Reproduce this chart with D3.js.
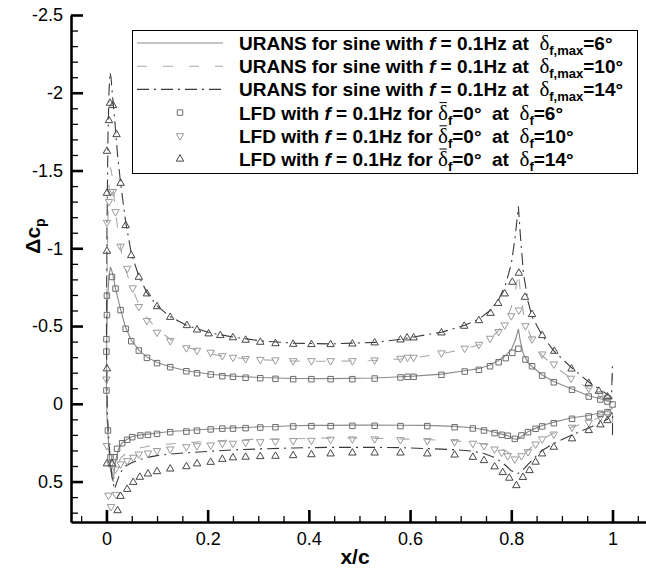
<!DOCTYPE html>
<html>
<head>
<meta charset="utf-8">
<script src="https://cdn.jsdelivr.net/npm/d3@7"></script>
<style>
body { margin: 0; background: #fff; }
svg { display: block; font-family: "Liberation Sans", Arial, sans-serif; }
.axis path, .axis line { stroke: #000; }
</style>
</head>
<body>
<svg width="646" height="569"></svg>
<script>
// ---- data: [x/c, dCp] ----
// URANS loops: lower surface TE -> LE, then upper surface LE -> TE
var urans6 = [[1.0,0.03],[0.99,0.045],[0.976,0.058],[0.953,0.075],[0.92,0.09],[0.884,0.118],[0.861,0.14],[0.848,0.158],[0.833,0.18],[0.822,0.205],[0.812,0.23],[0.805,0.225],[0.793,0.205],[0.781,0.195],[0.767,0.183],[0.746,0.166],[0.724,0.154],[0.688,0.145],[0.634,0.139],[0.581,0.138],[0.53,0.137],[0.486,0.137],[0.443,0.139],[0.405,0.139],[0.369,0.141],[0.334,0.146],[0.304,0.148],[0.275,0.152],[0.25,0.155],[0.206,0.162],[0.158,0.172],[0.126,0.178],[0.1,0.188],[0.082,0.195],[0.067,0.2],[0.051,0.21],[0.041,0.228],[0.031,0.25],[0.024,0.29],[0.018,0.37],[0.013,0.5],[0.008,0.42],[0.004,0.25],[0.001,0.08],[0.0,-0.1],[0.0005,-0.4],[0.002,-0.65],[0.005,-0.82],[0.008,-0.88],[0.012,-0.84],[0.018,-0.74],[0.028,-0.605],[0.038,-0.49],[0.049,-0.41],[0.064,-0.345],[0.08,-0.3],[0.1,-0.265],[0.126,-0.238],[0.158,-0.213],[0.206,-0.19],[0.25,-0.178],[0.304,-0.169],[0.369,-0.163],[0.443,-0.162],[0.53,-0.166],[0.581,-0.174],[0.607,-0.178],[0.662,-0.191],[0.708,-0.213],[0.736,-0.226],[0.758,-0.25],[0.775,-0.28],[0.789,-0.31],[0.8,-0.35],[0.808,-0.41],[0.814,-0.48],[0.818,-0.4],[0.824,-0.32],[0.833,-0.265],[0.841,-0.24],[0.861,-0.185],[0.884,-0.143],[0.92,-0.095],[0.953,-0.052],[0.976,-0.032],[0.99,-0.02],[1.0,-0.01]];

var urans10 = [[1.0,0.12],[1.0,0.03],[0.99,0.07],[0.953,0.115],[0.92,0.15],[0.884,0.19],[0.861,0.225],[0.848,0.255],[0.833,0.3],[0.82,0.33],[0.81,0.345],[0.8,0.33],[0.793,0.31],[0.781,0.29],[0.767,0.275],[0.746,0.258],[0.724,0.248],[0.688,0.238],[0.634,0.23],[0.581,0.226],[0.53,0.222],[0.486,0.22],[0.443,0.22],[0.405,0.222],[0.369,0.225],[0.304,0.228],[0.25,0.232],[0.206,0.24],[0.158,0.25],[0.126,0.258],[0.1,0.265],[0.08,0.275],[0.064,0.285],[0.049,0.3],[0.038,0.32],[0.028,0.35],[0.02,0.41],[0.015,0.48],[0.01,0.42],[0.005,0.25],[0.001,0.05],[0.0,-0.3],[0.001,-0.8],[0.003,-1.2],[0.006,-1.45],[0.008,-1.52],[0.011,-1.47],[0.016,-1.3],[0.022,-1.13],[0.03,-0.97],[0.04,-0.84],[0.05,-0.75],[0.064,-0.64],[0.08,-0.555],[0.1,-0.48],[0.126,-0.415],[0.158,-0.365],[0.206,-0.32],[0.25,-0.297],[0.304,-0.283],[0.369,-0.275],[0.443,-0.273],[0.53,-0.278],[0.581,-0.288],[0.607,-0.295],[0.662,-0.322],[0.708,-0.352],[0.736,-0.38],[0.758,-0.42],[0.775,-0.47],[0.789,-0.54],[0.8,-0.62],[0.808,-0.72],[0.814,-0.85],[0.818,-0.72],[0.824,-0.58],[0.833,-0.48],[0.841,-0.41],[0.861,-0.31],[0.884,-0.245],[0.92,-0.16],[0.953,-0.1],[0.976,-0.065],[0.99,-0.04],[0.999,-0.03],[1.0,-0.2]];

var urans14 = [[1.0,0.2],[1.0,0.05],[0.99,0.1],[0.953,0.155],[0.92,0.2],[0.884,0.255],[0.861,0.3],[0.848,0.34],[0.833,0.39],[0.822,0.43],[0.812,0.45],[0.8,0.43],[0.79,0.4],[0.781,0.375],[0.767,0.345],[0.746,0.32],[0.724,0.305],[0.688,0.295],[0.634,0.288],[0.581,0.282],[0.53,0.28],[0.443,0.28],[0.369,0.284],[0.304,0.29],[0.25,0.296],[0.206,0.305],[0.158,0.315],[0.126,0.323],[0.1,0.333],[0.08,0.345],[0.064,0.36],[0.049,0.38],[0.038,0.4],[0.028,0.44],[0.021,0.5],[0.016,0.55],[0.011,0.47],[0.006,0.3],[0.002,0.08],[0.0,-0.4],[0.001,-1.1],[0.003,-1.7],[0.005,-2.0],[0.007,-2.13],[0.009,-2.1],[0.012,-1.98],[0.017,-1.8],[0.022,-1.6],[0.028,-1.42],[0.038,-1.17],[0.049,-0.97],[0.064,-0.82],[0.08,-0.715],[0.1,-0.63],[0.126,-0.56],[0.158,-0.505],[0.206,-0.455],[0.25,-0.43],[0.304,-0.405],[0.369,-0.39],[0.443,-0.385],[0.53,-0.395],[0.581,-0.415],[0.607,-0.43],[0.662,-0.46],[0.708,-0.505],[0.736,-0.545],[0.758,-0.6],[0.775,-0.67],[0.789,-0.77],[0.8,-0.9],[0.808,-1.08],[0.814,-1.27],[0.818,-1.08],[0.824,-0.84],[0.833,-0.66],[0.841,-0.56],[0.861,-0.44],[0.884,-0.34],[0.92,-0.23],[0.953,-0.14],[0.976,-0.09],[0.99,-0.06],[0.998,-0.04],[1.0,-0.27]];

// LFD points
var lfd6 = [[0.0,-0.09],[0.0,-0.34],[0.0,-0.42],[0.001,-0.575],[0.001,-0.7],[0.011,-0.82],[0.018,-0.745],[0.028,-0.607],[0.038,-0.487],[0.049,-0.407],[0.064,-0.347],[0.08,-0.3],[0.1,-0.266],[0.126,-0.24],[0.158,-0.214],[0.179,-0.201],[0.206,-0.193],[0.229,-0.182],[0.25,-0.178],[0.275,-0.172],[0.304,-0.169],[0.334,-0.165],[0.369,-0.163],[0.405,-0.163],[0.443,-0.163],[0.486,-0.163],[0.53,-0.167],[0.581,-0.174],[0.595,-0.178],[0.607,-0.178],[0.662,-0.191],[0.708,-0.212],[0.736,-0.223],[0.758,-0.246],[0.775,-0.272],[0.789,-0.298],[0.802,-0.332],[0.814,-0.358],[0.828,-0.289],[0.841,-0.246],[0.861,-0.186],[0.884,-0.143],[0.92,-0.095],[0.953,-0.051],[0.976,-0.032],[0.99,-0.019],[1.0,0.0],
  [0.003,0.167],[0.008,0.339],[0.016,0.339],[0.021,0.285],[0.031,0.249],[0.041,0.227],[0.051,0.21],[0.067,0.199],[0.082,0.195],[0.1,0.189],[0.126,0.178],[0.158,0.174],[0.179,0.168],[0.206,0.16],[0.229,0.155],[0.25,0.155],[0.275,0.152],[0.304,0.148],[0.334,0.146],[0.369,0.141],[0.405,0.139],[0.443,0.139],[0.486,0.137],[0.53,0.137],[0.581,0.139],[0.634,0.139],[0.688,0.146],[0.724,0.154],[0.746,0.167],[0.767,0.184],[0.781,0.195],[0.793,0.201],[0.807,0.221],[0.82,0.199],[0.833,0.178],[0.848,0.156],[0.861,0.141],[0.884,0.12],[0.92,0.092],[0.953,0.077],[0.976,0.06],[0.99,0.049]];

var lfd10 = [[0.0,-0.154],[0.001,-1.162],[0.005,-1.295],[0.008,-1.359],[0.013,-1.36],[0.018,-1.23],[0.028,-1.008],[0.041,-0.866],[0.052,-0.74],[0.064,-0.62],[0.08,-0.53],[0.1,-0.455],[0.126,-0.401],[0.158,-0.355],[0.179,-0.339],[0.206,-0.326],[0.229,-0.304],[0.25,-0.294],[0.275,-0.285],[0.304,-0.28],[0.334,-0.277],[0.369,-0.272],[0.405,-0.272],[0.443,-0.272],[0.486,-0.272],[0.53,-0.277],[0.581,-0.287],[0.595,-0.294],[0.607,-0.294],[0.662,-0.322],[0.708,-0.352],[0.736,-0.377],[0.758,-0.416],[0.775,-0.459],[0.787,-0.502],[0.8,-0.561],[0.815,-0.598],[0.828,-0.497],[0.841,-0.412],[0.861,-0.315],[0.884,-0.251],[0.918,-0.159],[0.953,-0.095],[0.976,-0.06],[0.99,-0.035],
  [0.001,0.274],[0.008,0.392],[0.004,0.593],[0.009,0.666],[0.019,0.588],[0.018,0.424],[0.028,0.392],[0.041,0.371],[0.053,0.349],[0.064,0.328],[0.082,0.322],[0.1,0.306],[0.126,0.296],[0.158,0.281],[0.179,0.275],[0.206,0.27],[0.229,0.259],[0.25,0.259],[0.275,0.253],[0.304,0.249],[0.334,0.246],[0.369,0.242],[0.405,0.24],[0.443,0.233],[0.486,0.231],[0.53,0.231],[0.581,0.236],[0.634,0.242],[0.688,0.249],[0.724,0.259],[0.746,0.275],[0.767,0.296],[0.781,0.317],[0.793,0.339],[0.807,0.36],[0.82,0.339],[0.833,0.313],[0.848,0.264],[0.861,0.231],[0.884,0.2],[0.92,0.156],[0.953,0.124],[0.976,0.09],[0.99,0.07]];

var lfd14 = [[0.001,-0.23],[0.001,-0.986],[0.001,-1.359],[0.001,-1.629],[0.005,-1.826],[0.007,-1.938],[0.013,-1.923],[0.02,-1.736],[0.028,-1.423],[0.038,-1.151],[0.049,-0.958],[0.064,-0.819],[0.08,-0.712],[0.1,-0.63],[0.126,-0.561],[0.159,-0.508],[0.179,-0.48],[0.202,-0.455],[0.225,-0.444],[0.25,-0.43],[0.275,-0.414],[0.304,-0.401],[0.334,-0.392],[0.369,-0.388],[0.405,-0.386],[0.443,-0.386],[0.486,-0.39],[0.53,-0.397],[0.581,-0.416],[0.594,-0.429],[0.607,-0.429],[0.662,-0.461],[0.707,-0.504],[0.736,-0.54],[0.759,-0.587],[0.774,-0.651],[0.787,-0.712],[0.802,-0.787],[0.815,-0.845],[0.827,-0.69],[0.841,-0.579],[0.861,-0.444],[0.885,-0.343],[0.919,-0.229],[0.953,-0.137],[0.973,-0.086],[0.99,-0.05],
  [0.001,0.381],[0.011,0.381],[0.022,0.682],[0.028,0.59],[0.041,0.545],[0.053,0.5],[0.066,0.467],[0.082,0.446],[0.1,0.431],[0.126,0.414],[0.158,0.399],[0.179,0.381],[0.206,0.371],[0.229,0.352],[0.25,0.342],[0.275,0.338],[0.304,0.334],[0.334,0.332],[0.369,0.328],[0.405,0.322],[0.443,0.317],[0.486,0.311],[0.53,0.311],[0.581,0.311],[0.634,0.317],[0.688,0.324],[0.724,0.339],[0.746,0.36],[0.767,0.4],[0.783,0.437],[0.796,0.473],[0.81,0.521],[0.823,0.468],[0.836,0.424],[0.848,0.37],[0.861,0.317],[0.884,0.274],[0.92,0.22],[0.953,0.167],[0.976,0.13],[0.99,0.103]];

var xMajor = [0, 0.2, 0.4, 0.6, 0.8, 1];
var xTickLabels = ["0", "0.2", "0.4", "0.6", "0.8", "1"];
var yMajor = [-2.5, -2, -1.5, -1, -0.5, 0, 0.5];
var yTickLabels = ["-2.5", "-2", "-1.5", "-1", "-0.5", "0", "0.5"];
var angles = ["6", "10", "14"];

var svg = d3.select("svg");

var x = d3.scaleLinear().domain([-0.07, 1.08]).range([71, 653]);
var y = d3.scaleLinear().domain([-2.5, 0.76]).range([15, 522]);

// minor ticks
var xMinor = d3.range(-0.05, 1.06, 0.05).filter(function(d) { return Math.abs(d*5 - Math.round(d*5)) > 1e-6; });
var yMinor = d3.range(-2.4, 0.75, 0.1).filter(function(d) { return Math.abs(d*2 - Math.round(d*2)) > 1e-6; });

var gx = svg.append("g").attr("class", "axis").attr("transform", "translate(0," + y(0.76) + ")");
gx.call(d3.axisBottom(x).tickValues(xMinor).tickSize(-6).tickSizeOuter(0).tickFormat(""));
gx.selectAll("line").attr("stroke-width", 1.3);
gx.select(".domain").remove();
var gx2 = svg.append("g").attr("class", "axis").attr("transform", "translate(0," + y(0.76) + ")");
gx2.call(d3.axisBottom(x).tickValues(xMajor).tickSize(-12).tickSizeOuter(0).tickPadding(10)
  .tickFormat(function(d, i) { return xTickLabels[i]; }));
gx2.selectAll("line").attr("stroke-width", 2.6);
gx2.select(".domain").attr("stroke-width", 2.6);
gx2.selectAll("text").attr("font-size", 18).attr("fill", "#000").attr("font-family", '"Liberation Sans", Arial, sans-serif');

var gy = svg.append("g").attr("class", "axis").attr("transform", "translate(" + x(-0.07) + ",0)");
gy.call(d3.axisLeft(y).tickValues(yMinor).tickSize(-7).tickSizeOuter(0).tickFormat(""));
gy.selectAll("line").attr("stroke-width", 1.3);
gy.select(".domain").remove();
var gy2 = svg.append("g").attr("class", "axis").attr("transform", "translate(" + x(-0.07) + ",0)");
gy2.call(d3.axisLeft(y).tickValues(yMajor).tickSize(-12).tickSizeOuter(0).tickPadding(8)
  .tickFormat(function(d, i) { return yTickLabels[i]; }));
gy2.selectAll("line").attr("stroke-width", 2.6);
gy2.select(".domain").attr("stroke-width", 2.6);
gy2.selectAll("text").attr("font-size", 18).attr("fill", "#000").attr("font-family", '"Liberation Sans", Arial, sans-serif');

// axis titles
svg.append("text")
  .attr("x", 355).attr("y", 564)
  .attr("text-anchor", "middle")
  .attr("font-size", 21).attr("font-weight", "bold")
  .text("x/c");

var yl = svg.append("text")
  .attr("transform", "translate(40,236) rotate(-90)")
  .attr("text-anchor", "middle")
  .attr("font-size", 21).attr("font-weight", "bold");
yl.append("tspan").text("Δc");
yl.append("tspan").attr("dy", 5).attr("font-size", 14).text("p");

// URANS lines
var line = d3.line().x(function(d) { return x(d[0]); }).y(function(d) { return y(d[1]); });

var uransStyle = [
  { data: urans6, color: "#8a8a8a", dash: null },
  { data: urans10, color: "#a8a8a8", dash: "10,16" },
  { data: urans14, color: "#3a3a3a", dash: "12,5,2,5" }
];
var lfdStyle = [
  { data: lfd6, color: "#6c6c6c", sym: d3.symbolSquare, size: 30, rot: 0 },
  { data: lfd10, color: "#9a9a9a", sym: d3.symbolTriangle, size: 24, rot: 180 },
  { data: lfd14, color: "#474747", sym: d3.symbolTriangle, size: 24, rot: 0 }
];

uransStyle.forEach(function(s) {
  svg.append("path")
    .datum(s.data)
    .attr("d", line)
    .attr("fill", "none")
    .attr("stroke", s.color)
    .attr("stroke-width", 1.1)
    .attr("stroke-dasharray", s.dash);
});

lfdStyle.forEach(function(s) {
  var sym = d3.symbol().type(s.sym).size(s.size);
  svg.append("g").selectAll("path")
    .data(s.data)
    .enter().append("path")
      .attr("d", sym)
      .attr("transform", function(d) {
        var ty = s.rot ? y(d[1]) - 0.7 : y(d[1]) + 0.7;
        return "translate(" + x(d[0]) + "," + ty + ") rotate(" + s.rot + ")";
      })
      .attr("fill", "none")
      .attr("stroke", s.color)
      .attr("stroke-width", 1);
});

// legend
var lg = svg.append("g");
lg.append("rect")
  .attr("x", 132.5).attr("y", 30.5).attr("width", 505).attr("height", 143)
  .attr("fill", "#fff").attr("stroke", "#000").attr("stroke-width", 1);

var rowY = function(i) { return 43 + i * 23.2; };

function legendText(i, parts) {
  var t = lg.append("text")
    .attr("x", 239).attr("y", rowY(i) + 7)
    .attr("font-size", 19).attr("font-weight", "bold")
    .style("white-space", "pre");
  var shift = 0, bars = [];
  parts.forEach(function(p) {
    var ts = t.append("tspan").text(p.t);
    var want = p.sub ? 5 : 0;
    if (want !== shift) { ts.attr("dy", want - shift); shift = want; }
    if (p.sub) ts.attr("font-size", 13);
    if (p.it) ts.attr("font-style", "italic");
    if (p.sym) ts.attr("font-family", '"Liberation Serif", serif').attr("font-weight", "normal").attr("font-size", 21);
    if (p.bar) bars.push(ts.node());
  });
  // bar over delta (mean value)
  bars.forEach(function(n) {
    var b = n.getExtentOfChar(0);
    lg.append("line")
      .attr("x1", b.x + 1.5).attr("x2", b.x + b.width - 1)
      .attr("y1", rowY(i) - 10).attr("y2", rowY(i) - 10)
      .attr("stroke", "#000").attr("stroke-width", 1);
  });
}

uransStyle.forEach(function(s, i) {
  lg.append("line")
    .attr("x1", 137).attr("x2", 223).attr("y1", rowY(i)).attr("y2", rowY(i))
    .attr("stroke", s.color).attr("stroke-width", 1.1)
    .attr("stroke-dasharray", s.dash);
  legendText(i, [
    { t: "URANS for sine with " }, { t: "f", it: true }, { t: " = 0.1Hz at  " },
    { t: "δ", sym: true }, { t: "f,max", sub: true }, { t: "=" + angles[i] + "°" }
  ]);
});

lfdStyle.forEach(function(s, i) {
  var sym = d3.symbol().type(s.sym).size(s.size);
  lg.append("path")
    .attr("d", sym)
    .attr("transform", "translate(180," + rowY(i + 3) + ") rotate(" + s.rot + ")")
    .attr("fill", "none").attr("stroke", s.color).attr("stroke-width", 1);
  legendText(i + 3, [
    { t: "LFD with " }, { t: "f", it: true }, { t: " = 0.1Hz for " },
    { t: "δ", sym: true, bar: true }, { t: "f", sub: true }, { t: "=0°  at  " },
    { t: "δ", sym: true }, { t: "f", sub: true }, { t: "=" + angles[i] + "°" }
  ]);
});
</script>
</body>
</html>
